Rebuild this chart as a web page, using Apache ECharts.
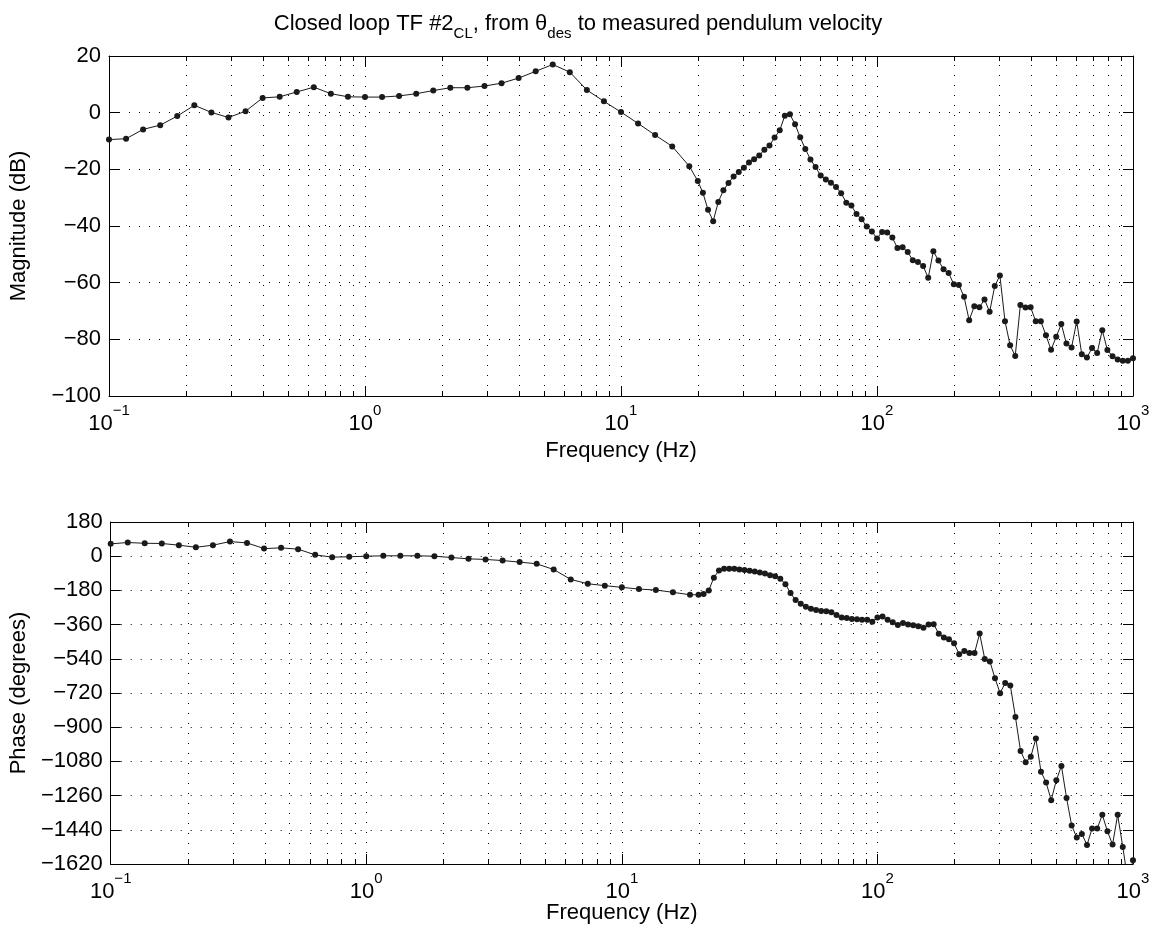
<!DOCTYPE html>
<html>
<head>
<meta charset="utf-8">
<script src="https://cdn.jsdelivr.net/npm/echarts@6/dist/echarts.min.js"></script>
<style>
html,body{margin:0;padding:0;background:#fff;}
#chart{width:1156px;height:933px;}
</style>
</head>
<body>
<div id="chart"></div>
<script>
const frequencies = [
  0.1, 0.1166, 0.1359, 0.1585, 0.1848, 0.2154, 0.2512, 0.2929, 0.3415, 0.3981,
  0.4642, 0.5412, 0.631, 0.7356, 0.8577, 1, 1.166, 1.359, 1.585, 1.848,
  2.154, 2.512, 2.929, 3.415, 3.981, 4.642, 5.412, 6.31, 7.356, 8.577,
  10, 11.66, 13.59, 15.85, 18.48,
  19.95, 20.89, 21.88, 22.91, 23.99, 25.12, 26.30, 27.54, 28.84, 30.20,
  31.62, 33.11, 34.67, 36.31, 38.02, 39.81, 41.69, 43.65, 45.71, 47.86,
  50.12, 52.48, 54.95, 57.54, 60.26, 63.10, 66.07, 69.18, 72.44, 75.86,
  79.43, 83.18, 87.10, 91.20, 95.50, 100.0, 104.7, 109.6, 114.8, 120.2,
  125.9, 131.8, 138.0, 144.5, 151.4, 158.5, 166.0, 173.8, 182.0, 190.5,
  199.5, 208.9, 218.8, 229.1, 239.9, 251.2, 263.0, 275.4, 288.4, 302.0,
  316.2, 331.1, 346.7, 363.1, 380.2, 398.1, 416.9, 436.5, 457.1, 478.6,
  501.2, 524.8, 549.5, 575.4, 602.6, 631.0, 660.7, 691.8, 724.4, 758.6,
  794.3, 831.8, 871.0, 912.0, 955.0, 1000
];

// Magnitude (dB)
const magnitudeDb = [
  -9.5, -9.2, -5.9, -4.4, -1.2, 2.6, 0.1, -1.7, 0.5, 5.2,
  5.6, 7.3, 9.0, 6.7, 5.6, 5.5, 5.5, 5.9, 6.7, 7.8,
  8.8, 8.8, 9.4, 10.4, 12.2, 14.6, 17.0, 14.3, 8.0, 4.0,
  0.2, -3.8, -7.9, -11.9, -18.9,
  -24.1, -28.3, -34.3, -38.3, -31.5, -27.4, -24.8, -22.5, -20.9, -19.4,
  -17.6, -16.4, -15.1, -13.1, -11.6, -8.8, -6.2, -1.1, -0.6, -4.1,
  -8.7, -12.8, -16.5, -19.2, -22.2, -23.6, -24.7, -26.2, -28.4, -31.8,
  -32.8, -35.8, -37.6, -40.2, -41.9, -44.4, -42.1, -42.3, -44.1, -47.8,
  -47.5, -49.2, -52.1, -52.7, -54.1, -58.3, -48.9, -52.2, -55.3, -56.6,
  -60.6, -60.8, -65.0, -73.3, -68.3, -68.7, -65.9, -70.3, -61.2, -57.5,
  -73.6, -82.1, -85.9, -67.9, -68.8, -68.7, -73.6, -73.6, -78.6, -83.7,
  -79.1, -74.6, -81.5, -82.9, -73.7, -85.3, -86.4, -83.1, -84.8, -76.8,
  -83.8, -86.0, -87.1, -87.6, -87.6, -86.7
];

// Phase (degrees)
const phaseDeg = [
  65, 72, 68, 67, 58, 47, 58, 77, 70, 40,
  44, 37, 7, -5, -3, 0, 2, 2, 2, 0,
  -7, -14, -17, -23, -31, -40, -70, -122, -145, -155,
  -164, -173, -178, -190, -203,
  -203, -199, -180, -113, -75, -66, -66, -66, -70, -73,
  -77, -80, -86, -91, -100, -105, -119, -147, -194, -231,
  -250, -266, -276, -283, -289, -290, -295, -310, -322, -325,
  -331, -332, -335, -335, -345, -322, -318, -334, -347, -362,
  -351, -360, -363, -369, -377, -360, -358, -408, -428, -437,
  -458, -516, -499, -509, -509, -407, -541, -554, -642, -721,
  -667, -680, -846, -1025, -1084, -1056, -960, -1134, -1191, -1284,
  -1179, -1104, -1272, -1417, -1481, -1462, -1520, -1433, -1433, -1361,
  -1448, -1518, -1361, -1530, -1710, -1600
];

const freqTicks = [0.1, 1, 10, 100, 1000];
const magTicks = [-100, -80, -60, -40, -20, 0, 20];
const phaseTicks = [-1620, -1440, -1260, -1080, -900, -720, -540, -360, -180, 0, 180];

const FONT = 'Liberation Sans, Arial, Helvetica, sans-serif';
const FS = 22;
const BLACK = '#000';

const minus = s => String(s).replace('-', '\u2212');

// minor log grid positions (2..9 per decade)
const minorXs = [];
for (let d = -1; d < 3; d++) for (let m = 2; m <= 9; m++) minorXs.push(+(m * Math.pow(10, d)).toPrecision(3));

const grids = [
  { left: 109, top: 56, width: 1024, height: 340 },
  { left: 109, top: 522, width: 1024, height: 342 }
];

function xAxes(gi, nameGap) {
  const main = {
    type: 'log', logBase: 10, gridIndex: gi, position: 'bottom',
    min: freqTicks[0], max: freqTicks[freqTicks.length - 1],
    name: 'Frequency (Hz)', nameLocation: 'middle', nameGap: nameGap, nameMoveOverlap: false,
    nameTextStyle: { fontFamily: FONT, fontSize: FS, color: BLACK },
    axisLine: { onZero: false, lineStyle: { color: BLACK, width: 1 } },
    axisTick: { inside: true, length: 10, lineStyle: { color: BLACK } },
    minorTick: { show: false },
    splitLine: { show: true, lineStyle: { color: BLACK, type: [1, 9], width: 1 } },
    axisLabel: {
      margin: 12,
      formatter: v => '{b|10}{s|' + minus(Math.round(Math.log10(v))) + '}',
      rich: {
        b: { fontFamily: FONT, fontSize: FS, color: BLACK, lineHeight: 22, padding: [9, 0, 0, 0] },
        s: { fontFamily: FONT, fontSize: 15, color: BLACK, lineHeight: 15, padding: [0, 0, 16, 0] }
      }
    }
  };
  const top = {
    type: 'log', logBase: 10, gridIndex: gi, position: 'top',
    min: freqTicks[0], max: freqTicks[freqTicks.length - 1],
    axisLine: { onZero: false, lineStyle: { color: BLACK, width: 1 } },
    axisTick: { inside: true, length: 10, lineStyle: { color: BLACK } },
    axisLabel: { show: false }, splitLine: { show: false }
  };
  return [main, top];
}

function yAxes(gi, ticks, name) {
  const mn = ticks[0], mx = ticks[ticks.length - 1], iv = ticks[1] - ticks[0];
  const main = {
    type: 'value', gridIndex: gi, position: 'left', min: mn, max: mx, interval: iv,
    name: name, nameLocation: 'middle', nameGap: 79, nameRotate: 90,
    nameTextStyle: { fontFamily: FONT, fontSize: FS, color: BLACK },
    axisLine: { show: true, onZero: false, lineStyle: { color: BLACK, width: 1 } },
    axisTick: { show: true, inside: true, length: 10, lineStyle: { color: BLACK } },
    splitLine: { show: true, lineStyle: { color: BLACK, type: [1, 9], width: 1 } },
    axisLabel: { margin: 8, fontFamily: FONT, fontSize: FS, color: BLACK, formatter: v => minus(v) }
  };
  const right = {
    type: 'value', gridIndex: gi, position: 'right', min: mn, max: mx, interval: iv,
    axisLine: { show: true, onZero: false, lineStyle: { color: BLACK, width: 1 } },
    axisTick: { show: true, inside: true, length: 10, lineStyle: { color: BLACK } },
    axisLabel: { show: false }, splitLine: { show: false }
  };
  return [main, right];
}

function minorGrid(xi, yi, yMin, yMax) {
  return {
    type: 'custom', xAxisIndex: xi, yAxisIndex: yi, silent: true, z: 1, clip: false,
    data: minorXs.map(v => [v, yMin]),
    renderItem: (params, api) => {
      const v = api.value(0);
      const b = api.coord([v, yMin]);
      const t = api.coord([v, yMax]);
      const x = Math.round(b[0]) + 0.5;
      return {
        type: 'group', children: [
          { type: 'line', shape: { x1: x, y1: b[1], x2: x, y2: t[1] }, style: { stroke: BLACK, lineWidth: 1, lineDash: [1, 9] } },
          { type: 'line', shape: { x1: x, y1: b[1], x2: x, y2: b[1] - 5 }, style: { stroke: BLACK, lineWidth: 1 } },
          { type: 'line', shape: { x1: x, y1: t[1], x2: x, y2: t[1] + 5 }, style: { stroke: BLACK, lineWidth: 1 } }
        ]
      };
    }
  };
}

function dataSeries(xi, yi, values) {
  return {
    type: 'line', xAxisIndex: xi, yAxisIndex: yi, z: 5,
    data: frequencies.map((f, i) => [f, values[i]]),
    symbol: 'circle', symbolSize: 6, showSymbol: true,
    itemStyle: { color: '#1a1a1a' },
    lineStyle: { color: '#1a1a1a', width: 1 },
    clip: true
  };
}

const chart = echarts.init(document.getElementById('chart'), null, { renderer: 'canvas' });
chart.setOption({
  animation: false,
  backgroundColor: '#fff',
  title: {
    left: 'center', top: 8,
    text: '{n|Closed loop TF #2}{s|CL}{n|, from θ}{s|des}{n| to measured pendulum velocity}',
    textStyle: {
      fontWeight: 'normal',
      rich: {
        n: { fontFamily: FONT, fontSize: FS, fontWeight: 'normal', color: BLACK, lineHeight: 24, verticalAlign: 'top' },
        s: { fontFamily: FONT, fontSize: 15, fontWeight: 'normal', color: BLACK, lineHeight: 15, verticalAlign: 'top', padding: [13, 0, 0, 0] }
      }
    }
  },
  grid: grids,
  xAxis: [...xAxes(0, 44), ...xAxes(1, 38)],
  yAxis: [...yAxes(0, magTicks, 'Magnitude (dB)'), ...yAxes(1, phaseTicks, 'Phase (degrees)')],
  series: [
    minorGrid(0, 0, magTicks[0], magTicks[magTicks.length - 1]),
    minorGrid(2, 2, phaseTicks[0], phaseTicks[phaseTicks.length - 1]),
    dataSeries(0, 0, magnitudeDb),
    dataSeries(2, 2, phaseDeg)
  ]
});
</script>
</body>
</html>
